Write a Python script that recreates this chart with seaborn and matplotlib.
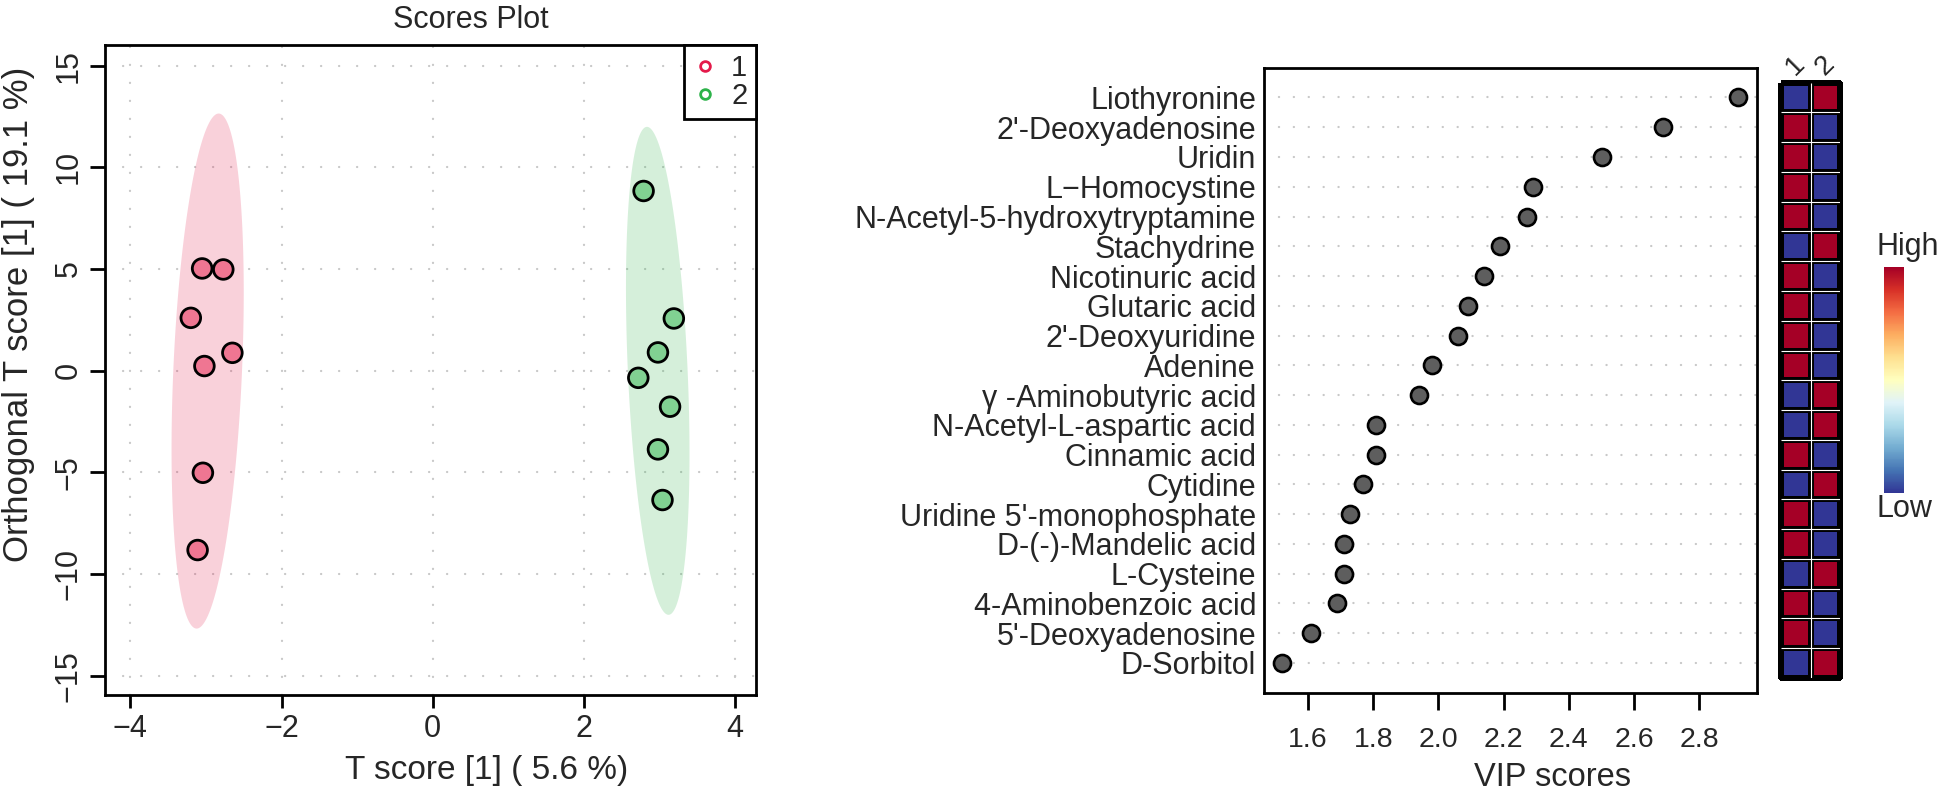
"""OPLS-DA scores plot and VIP score dot chart with group heatmap."""

import matplotlib

matplotlib.use("Agg")

import matplotlib.pyplot as plt
import numpy as np
import pandas as pd
import seaborn as sns
from matplotlib import cm
from matplotlib import colors as mcolors
from matplotlib.lines import Line2D

# scores plot values (T score, orthogonal T score)
group1_t = [-3.05, -2.77, -3.20, -2.65, -3.02, -3.04, -3.11]
group1_o = [5.03, 4.98, 2.60, 0.88, 0.23, -5.02, -8.82]
group2_t = [2.79, 3.19, 2.98, 2.72, 3.14, 2.98, 3.04]
group2_o = [8.84, 2.57, 0.90, -0.35, -1.77, -3.87, -6.36]
group_names = ["1", "2"]
group_colors = ["#E41A4A", "#2DB34A"]

# VIP chart values, top to bottom
metabolites = [
    "Liothyronine", "2'-Deoxyadenosine", "Uridin", "L\u2212Homocystine",
    "N-Acetyl-5-hydroxytryptamine", "Stachydrine", "Nicotinuric acid",
    "Glutaric acid", "2'-Deoxyuridine", "Adenine", "\u03b3 -Aminobutyric acid",
    "N-Acetyl-L-aspartic acid", "Cinnamic acid", "Cytidine",
    "Uridine 5'-monophosphate", "D-(-)-Mandelic acid", "L-Cysteine",
    "4-Aminobenzoic acid", "5'-Deoxyadenosine", "D-Sorbitol",
]
vip_scores = [2.92, 2.69, 2.50, 2.29, 2.27, 2.19, 2.14, 2.09, 2.06, 1.98,
              1.94, 1.81, 1.81, 1.77, 1.73, 1.71, 1.71, 1.69, 1.61, 1.52]
level_group1 = [0, 1, 1, 1, 1, 0, 1, 1, 1, 1, 0, 0, 1, 0, 1, 1, 0, 1, 1, 0]
level_group2 = [1, 0, 0, 0, 0, 1, 0, 0, 0, 0, 1, 1, 0, 1, 0, 0, 1, 0, 0, 1]

sns.set_theme(style="ticks")
plt.rcParams["font.family"] = ["Liberation Sans", "DejaVu Sans"]

W, H = 1944, 798
fig = plt.figure(figsize=(W / 100, H / 100), dpi=100)


def box(left, top, right, bottom):
    return [left / W, 1 - bottom / H, (right - left) / W, (bottom - top) / H]


def conf_ellipse(x, y, chi2=5.991, n=240):
    xy = np.column_stack([x, y])
    mu = xy.mean(axis=0)
    vals, vecs = np.linalg.eigh(np.cov(xy, rowvar=False))
    theta = np.linspace(0, 2 * np.pi, n)
    circle = np.column_stack([np.cos(theta), np.sin(theta)])
    pts = (circle * np.sqrt(vals * chi2)) @ vecs.T + mu
    return pts[:, 0], pts[:, 1]


def blend(color, frac):
    rgb = np.array(mcolors.to_rgb(color))
    return tuple(frac * rgb + (1 - frac))


grid_kw = dict(color="#C8C8C8", linewidth=1.6, dash_capstyle="round")

# ---- scores plot
ax = fig.add_axes(box(105, 45, 756, 695))
scores = pd.DataFrame({
    "t": group1_t + group2_t,
    "o": group1_o + group2_o,
    "group": [group_names[0]] * len(group1_t) + [group_names[1]] * len(group2_t),
})
for name, color in zip(group_names, group_colors):
    sub = scores[scores["group"] == name]
    ex, ey = conf_ellipse(sub["t"], sub["o"])
    ax.fill(ex, ey, color=color, alpha=0.2, lw=0, zorder=2)

sns.scatterplot(
    data=scores, x="t", y="o", hue="group",
    palette={n: blend(c, 0.6) for n, c in zip(group_names, group_colors)},
    edgecolor="black", linewidth=2, s=200, legend=False, ax=ax, zorder=3,
)
ax.set_xlim(-4.335, 4.277)
ax.set_ylim(-15.95, 16.02)
ax.set_xticks([-4, -2, 0, 2, 4])
ax.set_yticks([-15, -10, -5, 0, 5, 10, 15])
ax.grid(True, linestyle=(0, (0.1, 8)), **grid_kw)
ax.set_axisbelow(True)
ax.tick_params(axis="x", length=9.5, width=2, labelsize=22, pad=4, color="black")
ax.tick_params(axis="y", length=10.5, width=2, labelsize=22, pad=5, color="black")
for lab in ax.get_yticklabels():
    lab.set_rotation(90)
    lab.set_va("center")
for spine in ax.spines.values():
    spine.set_linewidth(2)
    spine.set_color("black")
ax.set_title("Scores Plot", fontsize=22, x=(471 - 105) / 651, pad=12)
ax.set_xlabel("T score [1] ( 5.6 %)", fontsize=24)
ax.xaxis.set_label_coords((487 - 105) / 651, -0.092)
ax.set_ylabel("Orthogonal T score [1] ( 19.1 %)", fontsize=25)
ax.yaxis.set_label_coords(-0.1075, (695 - 314) / 650)

handles = [
    Line2D([], [], marker="o", ls="", mfc="none", mec=c, ms=7, mew=2)
    for c in group_colors
]
leg = ax.legend(
    handles, group_names, loc="upper right", bbox_to_anchor=(1, 1),
    borderaxespad=0, fontsize=21, frameon=True, fancybox=False,
    framealpha=1, edgecolor="black", labelspacing=0, handlelength=0.8,
    handletextpad=0.5, borderpad=0.3,
)
leg.get_frame().set_linewidth(2)

# ---- VIP dot chart
ax2 = fig.add_axes(box(1263.5, 67.7, 1757.4, 692.7))
rows = np.arange(len(metabolites), 0, -1)
vip = pd.DataFrame({"metabolite": metabolites, "vip": vip_scores, "row": rows})
for r in vip["row"]:
    ax2.axhline(r, linestyle=(0, (0.1, 6.6)), zorder=1, **grid_kw)
sns.scatterplot(
    data=vip, x="vip", y="row", color="#5E5E5E", edgecolor="black",
    linewidth=1.9, s=150, ax=ax2, zorder=3,
)
ax2.set_xlim(1.4635, 2.978)
ax2.set_ylim(0, len(metabolites) + 1)
ax2.set_xticks([1.6, 1.8, 2.0, 2.2, 2.4, 2.6, 2.8])
ax2.set_xticklabels([f"{v:.1f}" for v in ax2.get_xticks()])
ax2.set_yticks(vip["row"], vip["metabolite"])
ax2.tick_params(axis="x", length=12, width=2, labelsize=20.5, pad=13, color="black")
ax2.tick_params(axis="y", length=0, labelsize=22, pad=5.4)
for spine in ax2.spines.values():
    spine.set_linewidth(2)
    spine.set_color("black")
ax2.set_xlabel("VIP scores", fontsize=23.5)
ax2.xaxis.set_label_coords((1552 - 1263.5) / 493.9, -0.111)
ax2.set_ylabel("")

# ---- group heatmap
hax = fig.add_axes(box(1781, 82.6, 1840, 678))
heat = pd.DataFrame({group_names[0]: level_group1, group_names[1]: level_group2},
                    index=metabolites)
sns.heatmap(heat, cmap="RdYlBu_r", vmin=0, vmax=1, cbar=False, linewidths=3,
            linecolor="black", yticklabels=False, ax=hax)
hax.collections[0].set_clip_on(False)
hax.hlines(np.arange(1, len(metabolites)), 0, 2, color="white", lw=0.8)
hax.vlines([1], 0, len(metabolites), color="white", lw=0.8)
hax.xaxis.tick_top()
hax.set_xticklabels(group_names, rotation=45, fontsize=20)
hax.tick_params(axis="x", length=0, pad=2)
hax.set_ylabel("")
for spine in hax.spines.values():
    spine.set_visible(False)

# ---- colour key
cax = fig.add_axes(box(1884, 267, 1904, 493))
cb = fig.colorbar(cm.ScalarMappable(norm=mcolors.Normalize(0, 1), cmap="RdYlBu_r"),
                  cax=cax)
cb.outline.set_visible(False)
cb.set_ticks([])
cax.text(-0.4, 1.053, "High", transform=cax.transAxes, ha="left",
         va="baseline", fontsize=22)
cax.text(-0.4, -0.005, "Low", transform=cax.transAxes, ha="left",
         va="top", fontsize=22)

fig.savefig("out.png", dpi=100)
